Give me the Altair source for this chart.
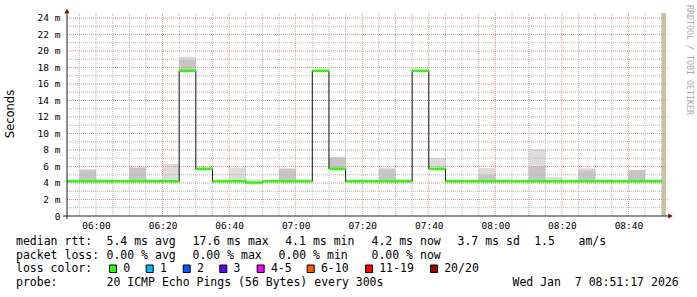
import altair as alt
import pandas as pd

# ---------------- data ----------------
bin_starts = ["05:50", "05:55", "06:00", "06:05", "06:10", "06:15", "06:20", "06:25", "06:30",
              "06:35", "06:40", "06:45", "06:50", "06:55", "07:00", "07:05", "07:10", "07:15",
              "07:20", "07:25", "07:30", "07:35", "07:40", "07:45", "07:50", "07:55", "08:00",
              "08:05", "08:10", "08:15", "08:20", "08:25", "08:30", "08:35", "08:40", "08:45"]
median_ms = [4.2, 4.2, 4.2, 4.2, 4.2, 4.2, 4.2, 17.6, 5.7,
             4.2, 4.2, 4.05, 4.2, 4.2, 4.2, 17.6, 5.7, 4.2,
             4.2, 4.2, 4.2, 17.6, 5.7, 4.2, 4.2, 4.2, 4.2,
             4.2, 4.2, 4.2, 4.2, 4.2, 4.2, 4.2, 4.2, 4.2]
smoke_light_ms = [None, 5.7, 4.45, None, 5.9, 4.45, 6.3, 19.3, 5.9,
                  None, 5.85, 4.45, None, 5.8, 4.45, None, 7.15, 4.45,
                  None, 5.85, 4.45, None, 7.05, 4.45, None, 5.8, 4.45,
                  None, 8.1, 4.7, None, 5.8, 4.45, None, 5.55, 4.45]
smoke_dark_ms = [None, 5.55, None, None, 5.85, None, None, 18.9, 5.85,
                 None, None, None, None, 5.7, None, None, 7.1, None,
                 None, 5.65, None, None, None, None, None, 4.95, None,
                 None, 5.95, None, None, 5.5, None, None, 5.55, None]
bin_minutes = 5
now_time = "08:51:17"
span_minutes = 180

x_tick_labels = ["06:00", "06:20", "06:40", "07:00", "07:20", "07:40", "08:00", "08:20", "08:40"]
y_tick_values = [0, 2, 4, 6, 8, 10, 12, 14, 16, 18, 20, 22, 24]
y_minor_values = [1, 3, 5, 7, 9, 11, 13, 15, 17, 19, 21, 23]

rtt_label = "median rtt:"
rtt_stats = ["5.4 ms avg", "17.6 ms max", "4.1 ms min", "4.2 ms now", "3.7 ms sd", "1.5", "am/s"]
loss_label = "packet loss:"
loss_stats = ["0.00 % avg", "0.00 % max", "0.00 % min", "0.00 % now"]
color_label = "loss color:"
loss_names = ["0", "1", "2", "3", "4-5", "6-10", "11-19", "20/20"]
loss_colors = ["#26ff00", "#00b8ff", "#0059ff", "#5e00ff", "#ff00ff", "#ff5500", "#ff0000", "#a10000"]
probe_label = "probe:"
probe_text = "20 ICMP Echo Pings (56 Bytes) every 300s"
timestamp = "Wed Jan \u00a07 08:51:17 2026"
y_title = "Seconds"
side_text = "RRDTOOL / TOBI OETIKER"

# ---------------- layout ----------------
OX, OY = 67, 13
W, H = 599, 203
CW, CH = 697, 297
MONO = "DejaVu Sans Mono"
rtt_x = [107.3, 193.3, 286, 372.3, 458.3, 535, 579.3]
loss_x = [107.3, 193.3, 279.3, 372.3]
box_x = [109, 145.7, 182.7, 219.3, 256.7, 306.7, 365, 430]
row_y = [245.2, 258.5, 272.2, 286.0]


def to_min(s):
    p = [int(v) for v in s.split(":")]
    return p[0] * 60 + p[1] + (p[2] / 60 if len(p) > 2 else 0)


now_m = to_min(now_time)
x_dom = [now_m - span_minutes, now_m]
starts = [to_min(s) for s in bin_starts]
df = pd.DataFrame({
    "start": starts,
    "end": [s + bin_minutes for s in starts],
    "median": median_ms,
    "light": smoke_light_ms,
    "dark": smoke_dark_ms,
})
df_line = pd.concat([df[["start", "median"]],
                     pd.DataFrame({"start": [starts[-1] + bin_minutes], "median": [median_ms[-1]]})],
                    ignore_index=True)

x_major = [to_min(t) for t in x_tick_labels]
x_minor = []
m = starts[1]
while m <= starts[-1] + bin_minutes:
    if m not in x_major:
        x_minor.append(m)
    m += bin_minutes

xscale = alt.Scale(domain=x_dom, nice=False, zero=False)
yscale = alt.Scale(domain=[0, 24.6], nice=False, zero=True)

label_expr_x = ("(floor(datum.value/60) < 10 ? '0' : '') + floor(datum.value/60) + ':' + "
                "(datum.value % 60 < 10 ? '0' : '') + (datum.value % 60)")
xaxis = alt.Axis(values=x_major, labelExpr=label_expr_x, domain=False, ticks=False, tickSize=0,
                 grid=False, labelFont=MONO, labelFontSize=9.5, labelColor="#000000",
                 labelPadding=4, title=None, labelFlush=False, labelOverlap=False)
yaxis = alt.Axis(values=y_tick_values,
                 labelExpr="datum.value == 0 ? '0\u00a0\u00a0' : datum.value + ' m'",
                 domain=False, ticks=False, tickSize=0, grid=False, labelFont=MONO,
                 labelFontSize=9.5, labelColor="#000000", labelPadding=7, title=None,
                 labelFlush=False, labelOverlap=False)


def X(f):
    return alt.X(f, type="quantitative", scale=xscale, axis=xaxis)


def Y(f):
    return alt.Y(f, type="quantitative", scale=yscale, axis=yaxis)


one = pd.DataFrame({"a": [0]})
layers = []

# smoke
layers.append(alt.Chart(df.dropna(subset=["light"])).mark_rect(color="#dcdcdc", clip=True).encode(
    x=X("start"), x2="end", y=Y("median"), y2="light"))
layers.append(alt.Chart(df.dropna(subset=["dark"])).mark_rect(color="#c6c6c6", clip=True).encode(
    x=X("start"), x2="end", y=Y("median"), y2="dark"))

# now bar
layers.append(alt.Chart(pd.DataFrame({"s": [starts[-1] + bin_minutes], "e": [now_m]})).mark_rect(
    color="#c8c3a2").encode(x=X("s"), x2="e", y=alt.value(0), y2=alt.value(H)))

# grid
layers.append(alt.Chart(pd.DataFrame({"m": x_minor})).mark_rule(
    color="#b8b8b8", strokeDash=[1, 1], strokeWidth=1).encode(
    x=X("m"), y=alt.value(0), y2=alt.value(H)))
layers.append(alt.Chart(pd.DataFrame({"v": y_minor_values})).mark_rule(
    color="#b8b8b8", strokeDash=[1, 1], strokeWidth=1).encode(
    y=Y("v"), x=alt.value(0), x2=alt.value(W + 2)))
layers.append(alt.Chart(pd.DataFrame({"m": x_major})).mark_rule(
    color="#e4918a", strokeDash=[1, 1], strokeWidth=1).encode(
    x=X("m"), y=alt.value(0), y2=alt.value(H)))
layers.append(alt.Chart(pd.DataFrame({"v": y_tick_values[1:]})).mark_rule(
    color="#e4918a", strokeDash=[1, 1], strokeWidth=1).encode(
    y=Y("v"), x=alt.value(0), x2=alt.value(W + 2)))

# median line and loss colour segments
layers.append(alt.Chart(df_line).mark_line(interpolate="step-after", color="#1a1a1a",
                                           strokeWidth=1, clip=True).encode(
    x=X("start"), y=Y("median")))
layers.append(alt.Chart(df).mark_rule(color=loss_colors[0], strokeWidth=2.5, clip=True).encode(
    x=X("start"), x2="end", y=Y("median")))

# axis lines and arrows
layers.append(alt.Chart(one).mark_rule(color="#222222", strokeWidth=1).encode(
    x=alt.value(-4), x2=alt.value(W + 3), y=alt.value(H)))
layers.append(alt.Chart(one).mark_rule(color="#222222", strokeWidth=1).encode(
    x=alt.value(0), y=alt.value(H + 3), y2=alt.value(-2)))
layers.append(alt.Chart(one).mark_point(shape="triangle-up", filled=True, size=26,
                                        color="#8f0000", opacity=1).encode(
    x=alt.value(0), y=alt.value(-2)))
layers.append(alt.Chart(one).mark_point(shape="triangle-right", filled=True, size=26,
                                        color="#8f0000", opacity=1).encode(
    x=alt.value(W + 4.5), y=alt.value(H)))

# titles
layers.append(alt.Chart(one).mark_text(text=y_title, font="DejaVu Sans", fontSize=11.5, angle=270,
                                       align="center", baseline="middle", color="#000000").encode(
    x=alt.value(11 - OX), y=alt.value(114 - OY)))
layers.append(alt.Chart(one).mark_text(text=side_text, font=MONO, fontSize=8.3, angle=90,
                                       align="center", baseline="middle", color="#aaaaaa").encode(
    x=alt.value(688.5 - OX), y=alt.value(60 - OY)))


def txt(t, px, py):
    return alt.Chart(one).mark_text(text=t, font=MONO, fontSize=11.5, align="left",
                                    baseline="alphabetic", color="#000000").encode(
        x=alt.value(px - OX), y=alt.value(py - OY))


layers.append(txt(rtt_label, 16, row_y[0]))
for t, px in zip(rtt_stats, rtt_x):
    layers.append(txt(t, px - 0.8, row_y[0]))
layers.append(txt(loss_label, 16, row_y[1]))
for t, px in zip(loss_stats, loss_x):
    layers.append(txt(t, px - 0.8, row_y[1]))
layers.append(txt(color_label, 16, row_y[2]))
for t, bx, c in zip(loss_names, box_x, loss_colors):
    layers.append(alt.Chart(one).mark_rect(fill=c, stroke="#000000", strokeWidth=1).encode(
        x=alt.value(bx + 0.5 - OX), x2=alt.value(bx + 7.5 - OX),
        y=alt.value(265 - OY), y2=alt.value(272.5 - OY)))
    layers.append(txt(t, bx + 15 - 0.8, row_y[2]))
layers.append(txt(probe_label, 16, row_y[3]))
layers.append(txt(probe_text, 107.3 - 0.8, row_y[3]))
layers.append(txt(timestamp, 513.3 - 0.8, row_y[3]))

chart = alt.layer(*layers).properties(
    width=W, height=H,
    autosize=alt.AutoSizeParams(type="none"),
    padding={"left": OX, "top": OY, "right": CW - OX - W, "bottom": CH - OY - H},
    background="white",
).configure_view(stroke=None)

chart.save("out.html", embed_options={"renderer": "svg", "actions": False})
